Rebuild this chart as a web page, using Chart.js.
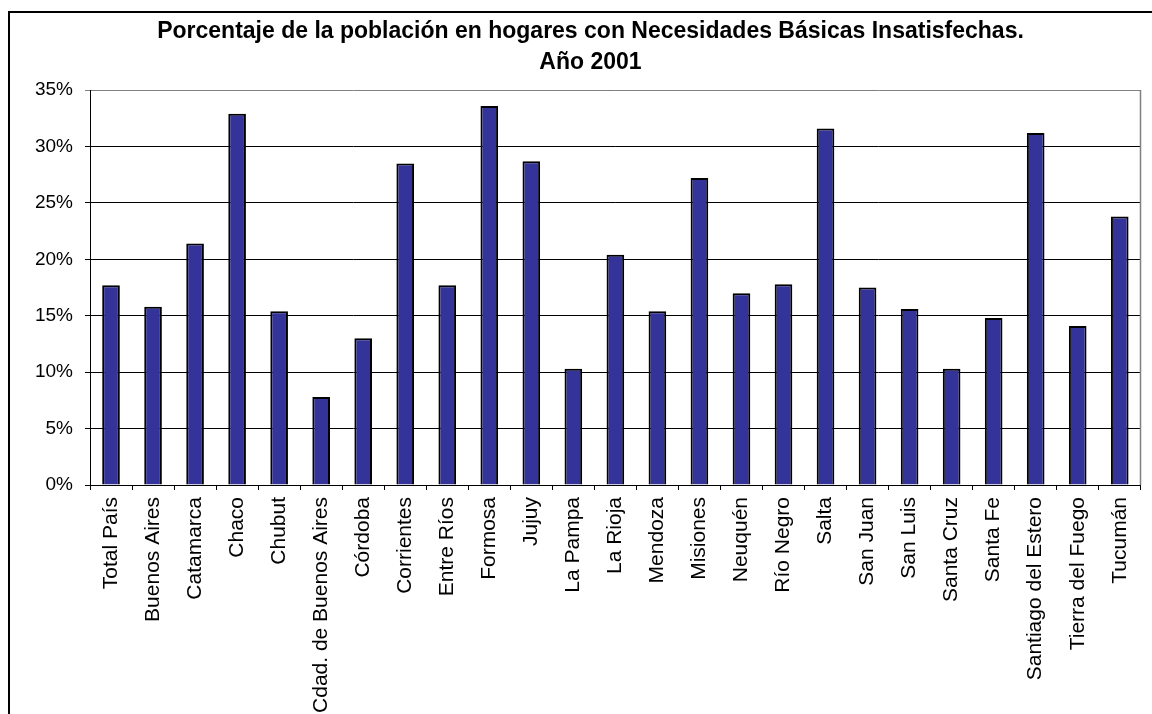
<!DOCTYPE html>
<html lang="es">
<head>
<meta charset="utf-8">
<title>NBI 2001</title>
<script src="https://cdn.jsdelivr.net/npm/chart.js@4"></script>
<style>
  html, body { margin: 0; padding: 0; background: #fff; }
  canvas { display: block; }
</style>
</head>
<body>
<canvas id="nbiChart" width="1152" height="714"></canvas>
<script>
// Datos del grafico
const provincias = [
  'Total País', 'Buenos Aires', 'Catamarca', 'Chaco', 'Chubut',
  'Cdad. de Buenos Aires', 'Córdoba', 'Corrientes', 'Entre Ríos', 'Formosa',
  'Jujuy', 'La Pampa', 'La Rioja', 'Mendoza', 'Misiones',
  'Neuquén', 'Río Negro', 'Salta', 'San Juan', 'San Luis',
  'Santa Cruz', 'Santa Fe', 'Santiago del Estero', 'Tierra del Fuego', 'Tucumán'
];
const porcentajeNBI = [
  17.7, 15.8, 21.4, 32.9, 15.4,
  7.8, 13.0, 28.5, 17.7, 33.6,
  28.7, 10.3, 20.4, 15.4, 27.2,
  17.0, 17.8, 31.6, 17.5, 15.6,
  10.3, 14.8, 31.2, 14.1, 23.8
];
const ejeYTicks = [0, 5, 10, 15, 20, 25, 30, 35];
const tituloLineas = [
  'Porcentaje de la población en hogares con Necesidades Básicas Insatisfechas.',
  'Año 2001'
];

const fuente = "'Liberation Sans', Arial, sans-serif";

// Fondo blanco y marco exterior
const marcoPlugin = {
  id: 'marco',
  beforeDraw(chart) {
    const ctx = chart.ctx;
    ctx.save();
    ctx.fillStyle = '#fff';
    ctx.fillRect(0, 0, chart.width, chart.height);
    ctx.strokeStyle = '#000';
    ctx.lineWidth = 2;
    ctx.strokeRect(9, 12, 1300, 900);
    ctx.restore();
  },
  afterDraw(chart) {
    // borde derecho gris del area de trazado
    const a = chart.chartArea;
    const ctx = chart.ctx;
    ctx.save();
    ctx.strokeStyle = '#808080';
    ctx.lineWidth = 1.5;
    ctx.beginPath();
    ctx.moveTo(Math.round(a.right) - 0.5, a.top);
    ctx.lineTo(Math.round(a.right) - 0.5, a.bottom);
    ctx.stroke();
    ctx.restore();
  }
};

const ctx = document.getElementById('nbiChart').getContext('2d');
const nbiChart = new Chart(ctx, {
  type: 'bar',
  data: {
    labels: provincias,
    datasets: [{
      data: porcentajeNBI,
      backgroundColor: '#333399',
      borderColor: '#000',
      borderWidth: 2,
      barPercentage: 0.42,
      categoryPercentage: 1
    }]
  },
  options: {
    responsive: false,
    animation: false,
    layout: {
      padding: { left: 32, right: 3, top: 0, bottom: 0 }
    },
    plugins: {
      legend: { display: false },
      tooltip: { enabled: false },
      title: {
        display: true,
        text: tituloLineas,
        color: '#000',
        font: { family: fuente, size: 23, weight: 'bold', lineHeight: 1.35 },
        padding: { top: 16, bottom: 12 }
      }
    },
    scales: {
      x: {
        grid: {
          display: true,
          drawOnChartArea: false,
          drawTicks: true,
          tickLength: 5,
          color: '#000'
        },
        border: { color: '#000', width: 1 },
        ticks: {
          color: '#000',
          font: { family: fuente, size: 21 },
          minRotation: 90,
          maxRotation: 90,
          autoSkip: false,
          padding: 7
        },
        afterFit(scale) {
          scale.height = 229;
        }
      },
      y: {
        min: 0,
        max: 35,
        afterBuildTicks(scale) {
          scale.ticks = ejeYTicks.map(v => ({ value: v }));
        },
        grid: {
          color: (c) => (c.tick && c.tick.value === 35 ? '#808080' : '#000'),
          tickLength: 5,
          drawTicks: true
        },
        border: { color: '#000', width: 1 },
        ticks: {
          color: '#000',
          font: { family: fuente, size: 19 },
          padding: 12,
          callback: (v) => v + '%'
        },
        afterFit(scale) {
          scale.width = 58;
        }
      }
    }
  },
  plugins: [marcoPlugin]
});
</script>
</body>
</html>
